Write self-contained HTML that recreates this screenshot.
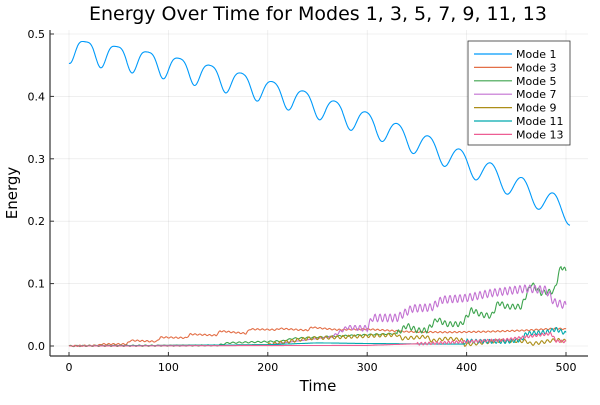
<!DOCTYPE html>
<html><head><meta charset="utf-8"><style>
body{margin:0;background:#fff;font-family:"Liberation Sans","DejaVu Sans",sans-serif}
svg text{font-family:"DejaVu Sans","Liberation Sans",sans-serif}
</style></head><body>
<svg id="s" width="600" height="400" xmlns="http://www.w3.org/2000/svg">
<rect width="600" height="400" fill="#fff"/>
<g id="grid" stroke="#000" stroke-opacity="0.1" stroke-width="0.6"></g>
<g id="series" fill="none" stroke-width="1.1"></g>
<line x1="50" y1="356" x2="588" y2="356" stroke="#333" stroke-width="1.2"/>
<line x1="50" y1="356" x2="50" y2="30" stroke="#333" stroke-width="1.2"/>
<g id="ticks" stroke="#333" stroke-width="1"></g>
<g id="labels" font-size="11" fill="#000"></g>
<text x="318" y="20" font-size="19" text-anchor="middle">Energy Over Time for Modes 1, 3, 5, 7, 9, 11, 13</text>
<text x="318" y="391" font-size="15" text-anchor="middle">Time</text>
<text transform="translate(17,193) rotate(-90)" font-size="15" text-anchor="middle">Energy</text>
<rect x="468" y="41" width="102" height="104" fill="#fff" stroke="#333" stroke-width="0.8"/>
<g id="legend" font-size="11"></g>
</svg>
<script>
const X=t=>69+t*0.994, Y=v=>346-v*624;
const NS="http://www.w3.org/2000/svg";
function el(p,tag,a,txt){const e=document.createElementNS(NS,tag);for(const k in a)e.setAttribute(k,a[k]);if(txt!=null)e.textContent=txt;document.getElementById(p).appendChild(e);return e;}
for(let t=0;t<=500;t+=100){el('grid','line',{x1:X(t),x2:X(t),y1:30,y2:356});el('ticks','line',{x1:X(t),x2:X(t),y1:356,y2:352});el('labels','text',{x:X(t),y:371,'text-anchor':'middle'},String(t));}
for(let i=0;i<=5;i++){const v=i/10;el('grid','line',{x1:50,x2:588,y1:Y(v),y2:Y(v)});el('ticks','line',{x1:50,x2:54,y1:Y(v),y2:Y(v)});el('labels','text',{x:45,y:Y(v)+4,'text-anchor':'end'},v.toFixed(1));}
function interp(k,t){for(let i=1;i<k.length;i++){if(t<=k[i][0]){const a=k[i-1],b=k[i];const f=(t-a[0])/(b[0]-a[0]);return a[1]+f*(b[1]-a[1]);}}return k[k.length-1][1];}
function path(fn,color,t1){t1=t1||500;let d="";for(let t=0;t<=t1;t+=0.5){d+=(t?"L":"M")+X(t).toFixed(1)+","+Y(fn(t)).toFixed(1);}el('series','path',{d:d,stroke:color});}
const cols=["#009AFA","#E36F47","#3EA44E","#C371D2","#AC8E18","#00A9AD","#ED5E93"];
const k3=[[0,0],[30,0.001],[32,0.003],[58,0.003],[62,0.009],[88,0.007],[92,0.014],[118,0.013],[122,0.019],[148,0.017],[152,0.024],[178,0.02],[182,0.027],[208,0.026],[212,0.028],[240,0.025],[244,0.03],[270,0.026],[300,0.027],[340,0.023],[380,0.022],[420,0.023],[460,0.025],[490,0.028],[500,0.027]];
const k5=[[0,0],[150,0.001],[160,0.005],[200,0.007],[215,0.008],[225,0.012],[260,0.015],[300,0.018],[330,0.02],[340,0.033],[350,0.025],[360,0.025],[370,0.043],[380,0.035],[395,0.035],[405,0.058],[415,0.05],[425,0.048],[432,0.07],[440,0.063],[455,0.063],[465,0.1],[475,0.085],[488,0.088],[495,0.128],[500,0.12]];
const k7=[[0,0],[200,0.002],[240,0.01],[265,0.015],[280,0.03],[300,0.028],[305,0.045],[330,0.045],[345,0.06],[365,0.062],[375,0.074],[400,0.077],[425,0.085],[460,0.092],[480,0.09],[488,0.07],[500,0.065]];
const k9=[[0,0],[200,0.002],[240,0.012],[300,0.016],[330,0.018],[335,0.012],[360,0.015],[365,0.008],[380,0.012],[395,0.01],[398,0.002],[430,0.008],[460,0.008],[465,0.003],[490,0.01],[500,0.008]];
const k11=[[0,0],[200,0.002],[250,0.005],[300,0.004],[380,0.003],[398,0.003],[400,0.008],[440,0.007],[455,0.01],[460,0.02],[480,0.022],[490,0.027],[500,0.02]];
const k13=[[0,0],[300,0.001],[360,0.004],[400,0.007],[440,0.01],[470,0.017],[485,0.02],[490,0.008],[500,0.007]];
path(t=>{const m=0.471+0.006*(1-t/500)-0.0002*t-0.00000062*t*t;const th=2*Math.PI*(t-32)/31.4;return m-0.019*Math.cos(th)-0.005*(1-t/550)*Math.cos(2*th);},cols[0],504);
path(t=>interp(k3,t)+0.001*Math.sin(t*1.3),cols[1]);
path(t=>interp(k5,t)+(t>330?0.004*Math.sin(t*1.2):0.001*Math.sin(t)),cols[2]);
path(t=>interp(k7,t)+(t>250?0.006*Math.sin(t*1.25)*Math.min(1,(t-250)/60):0),cols[3]);
path(t=>interp(k9,t)+(t>200?0.0025*Math.sin(t*1.1):0),cols[4]);
path(t=>interp(k11,t)+(t>400?0.003*Math.sin(t*1.4):0),cols[5]);
path(t=>interp(k13,t)+(t>350?0.002*Math.sin(t*1.6):0),cols[6]);
["Mode 1","Mode 3","Mode 5","Mode 7","Mode 9","Mode 11","Mode 13"].forEach((n,i)=>{const y=54+i*13.4;el('legend','line',{x1:474,x2:512,y1:y,y2:y,stroke:cols[i],'stroke-width':1.2});el('legend','text',{x:516,y:y+4},n);});
</script>
</body></html>
